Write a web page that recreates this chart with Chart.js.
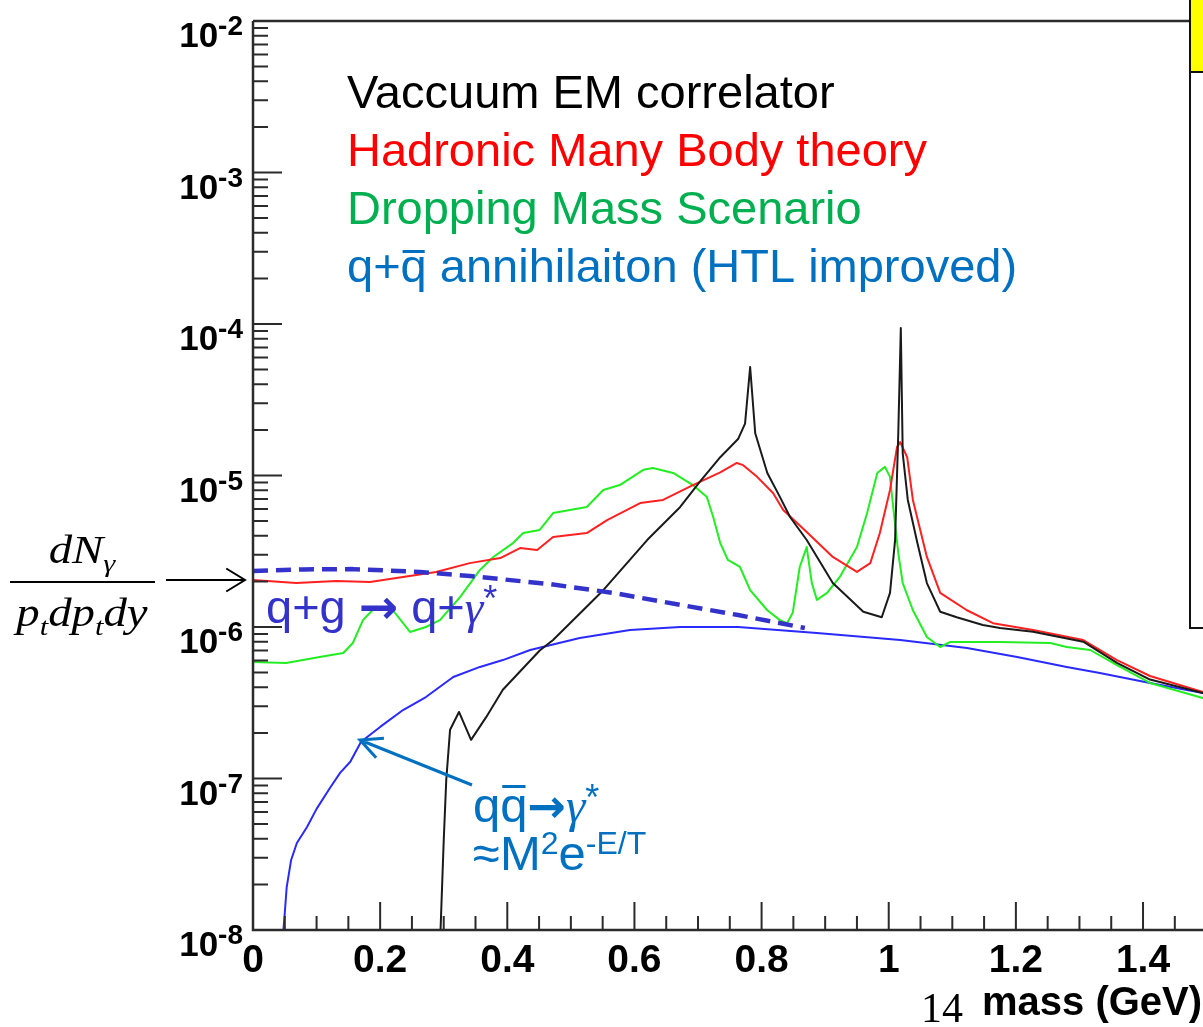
<!DOCTYPE html>
<html>
<head>
<meta charset="utf-8">
<script src="https://cdn.jsdelivr.net/npm/chart.js@4.4.0/dist/chart.umd.min.js"></script>
<style>
html, body { margin: 0; padding: 0; background: #fff; overflow: hidden; }
#caja { position: absolute; left: 0; top: 0; width: 1240px; height: 1027px; }
</style>
</head>
<body>
<div id="caja"><canvas id="grafica" width="1240" height="1027"></canvas></div>
<script>
// masa en GeV, rendimiento dN/(pt dpt dy)
const masaVacio = [0.295, 0.300, 0.304, 0.310, 0.324, 0.343, 0.367, 0.393, 0.451, 0.472, 0.551, 0.620, 0.672, 0.703, 0.735, 0.763, 0.774, 0.782, 0.790, 0.809, 0.829, 0.845, 0.871, 0.912, 0.960, 0.989, 1.002, 1.010, 1.015, 1.019, 1.022, 1.030, 1.045, 1.060, 1.081, 1.107, 1.148, 1.175, 1.227, 1.306, 1.359, 1.411, 1.494, 1.5];
const yieldVacio = [1.0e-8, 3.9e-8, 9.8e-8, 2.1e-7, 2.75e-7, 1.8e-7, 2.55e-7, 3.85e-7, 7.0e-7, 8.2e-7, 1.75e-6, 3.75e-6, 6.2e-6, 9.1e-6, 1.32e-5, 1.74e-5, 2.2e-5, 5.2e-5, 1.9e-5, 1.04e-5, 7.2e-6, 5.3e-6, 3.75e-6, 1.95e-6, 1.26e-6, 1.16e-6, 1.68e-6, 3.75e-6, 1.9e-5, 9.4e-5, 1.4e-5, 6.9e-6, 3.6e-6, 1.95e-6, 1.26e-6, 1.16e-6, 1.03e-6, 9.85e-7, 9.3e-7, 8.0e-7, 5.8e-7, 4.5e-7, 3.67e-7, 3.6e-7];

const masaHMBT = [0, 0.068, 0.131, 0.184, 0.236, 0.288, 0.341, 0.389, 0.420, 0.447, 0.472, 0.525, 0.557, 0.609, 0.645, 0.692, 0.735, 0.761, 0.771, 0.793, 0.818, 0.834, 0.871, 0.912, 0.950, 0.971, 0.986, 1.002, 1.013, 1.018, 1.029, 1.038, 1.060, 1.081, 1.123, 1.164, 1.227, 1.306, 1.359, 1.411, 1.494, 1.5];
const yieldHMBT = [2.04e-6, 1.95e-6, 2.01e-6, 1.98e-6, 2.14e-6, 2.31e-6, 2.64e-6, 2.85e-6, 3.32e-6, 3.22e-6, 3.93e-6, 4.17e-6, 5.08e-6, 6.58e-6, 6.9e-6, 8.65e-6, 1.05e-5, 1.21e-5, 1.17e-5, 9.8e-6, 7.66e-6, 5.92e-6, 4.24e-6, 2.9e-6, 2.31e-6, 2.64e-6, 4.17e-6, 8.02e-6, 1.54e-5, 1.66e-5, 1.32e-5, 6.9e-6, 2.9e-6, 1.68e-6, 1.29e-6, 1.06e-6, 9.55e-7, 8.2e-7, 6.05e-7, 4.75e-7, 3.72e-7, 3.65e-7];

const masaDropping = [0, 0.052, 0.105, 0.142, 0.157, 0.173, 0.193, 0.220, 0.247, 0.272, 0.294, 0.326, 0.357, 0.378, 0.409, 0.425, 0.451, 0.472, 0.525, 0.551, 0.577, 0.614, 0.629, 0.661, 0.692, 0.714, 0.724, 0.735, 0.747, 0.766, 0.782, 0.809, 0.829, 0.840, 0.849, 0.860, 0.871, 0.879, 0.887, 0.903, 0.923, 0.950, 0.966, 0.982, 0.994, 1.002, 1.007, 1.015, 1.022, 1.038, 1.060, 1.081, 1.096, 1.175, 1.254, 1.280, 1.317, 1.359, 1.411, 1.494, 1.5];
const yieldDropping = [5.87e-7, 5.78e-7, 6.34e-7, 6.73e-7, 7.84e-7, 1.11e-6, 1.36e-6, 1.29e-6, 9.27e-7, 1.0e-6, 1.11e-6, 1.58e-6, 2.38e-6, 2.9e-6, 3.58e-6, 4.17e-6, 4.37e-6, 5.65e-6, 6.2e-6, 8.02e-6, 8.65e-6, 1.09e-5, 1.12e-5, 1.04e-5, 8.65e-6, 7.2e-6, 5.3e-6, 3.58e-6, 2.77e-6, 2.49e-6, 1.75e-6, 1.29e-6, 1.11e-6, 1.06e-6, 1.24e-6, 2.49e-6, 3.37e-6, 1.95e-6, 1.51e-6, 1.68e-6, 2.14e-6, 3.37e-6, 5.65e-6, 1.04e-5, 1.14e-5, 9.8e-6, 6.2e-6, 3.08e-6, 1.95e-6, 1.29e-6, 8.59e-7, 7.38e-7, 7.96e-7, 7.96e-7, 7.84e-7, 7.38e-7, 7.05e-7, 5.61e-7, 4.27e-7, 3.4e-7, 3.35e-7];

const masaQQbar = [0.047, 0.050, 0.053, 0.060, 0.069, 0.085, 0.100, 0.121, 0.137, 0.153, 0.170, 0.200, 0.236, 0.272, 0.315, 0.357, 0.393, 0.436, 0.514, 0.593, 0.672, 0.763, 0.887, 1.018, 1.123, 1.202, 1.280, 1.332, 1.411, 1.494, 1.5];
const yieldQQbar = [9e-9, 1.3e-8, 1.92e-8, 2.9e-8, 3.75e-8, 4.79e-8, 6.3e-8, 8.65e-8, 1.09e-7, 1.29e-7, 1.75e-7, 2.19e-7, 2.83e-7, 3.45e-7, 4.68e-7, 5.45e-7, 6.05e-7, 7.05e-7, 8.46e-7, 9.55e-7, 1.0e-6, 1.0e-6, 9.12e-7, 8.2e-7, 7.27e-7, 6.34e-7, 5.45e-7, 4.97e-7, 4.27e-7, 3.67e-7, 3.62e-7];

const masaQG = [0, 0.08, 0.157, 0.263, 0.341, 0.467, 0.566, 0.672, 0.763, 0.868];
const yieldQG = [2.34e-6, 2.4e-6, 2.41e-6, 2.31e-6, 2.17e-6, 1.92e-6, 1.68e-6, 1.4e-6, 1.2e-6, 9.85e-7];

const xTicks = [0, 0.2, 0.4, 0.6, 0.8, 1, 1.2, 1.4];
const xTickLabels = ['0', '0.2', '0.4', '0.6', '0.8', '1', '1.2', '1.4'];
const yExponentes = [-8, -7, -6, -5, -4, -3, -2];

function puntos(masas, valores) {
    return masas.map((m, i) => ({ x: m, y: valores[i] }));
}

// escribe trozos de texto seguidos (superindices, barras, etc.)
function escribir(ctx, x, y, trozos) {
    for (const t of trozos) {
        ctx.font = t.f;
        ctx.fillStyle = t.c;
        const w = ctx.measureText(t.s).width;
        ctx.fillText(t.s, x, y - (t.up || 0));
        if (t.barra) {
            ctx.fillRect(x + 2, y - t.barra, w - 4, 3);
        }
        x += w + (t.gap || 0);
    }
    return x;
}

function anchoTrozos(ctx, trozos) {
    let w = 0;
    for (const t of trozos) { ctx.font = t.f; w += ctx.measureText(t.s).width + (t.gap || 0); }
    return w;
}

function flecha(ctx, x1, y1, x2, y2, color, grosor, largo, abre) {
    const ang = Math.atan2(y2 - y1, x2 - x1);
    ctx.strokeStyle = color;
    ctx.lineWidth = grosor;
    ctx.beginPath();
    ctx.moveTo(x1, y1);
    ctx.lineTo(x2, y2);
    ctx.moveTo(x2 - largo * Math.cos(ang - abre), y2 - largo * Math.sin(ang - abre));
    ctx.lineTo(x2, y2);
    ctx.lineTo(x2 - largo * Math.cos(ang + abre), y2 - largo * Math.sin(ang + abre));
    ctx.stroke();
}

const marcoPlugin = {
    id: 'marco',
    afterDraw(chart) {
        const ctx = chart.ctx;
        const area = chart.chartArea;
        const sx = chart.scales.x;
        const sy = chart.scales.y;
        ctx.save();

        // marco y ejes
        ctx.strokeStyle = '#2b2b2b';
        ctx.lineWidth = 2.5;
        ctx.beginPath();
        ctx.moveTo(area.left, area.top);
        ctx.lineTo(area.right, area.top);
        ctx.moveTo(area.left, area.top);
        ctx.lineTo(area.left, area.bottom);
        ctx.lineTo(area.right, area.bottom);
        ctx.stroke();

        // ticks del eje x (hacia dentro)
        ctx.lineWidth = 2;
        ctx.beginPath();
        for (let i = 0; i <= 30; i++) {
            const px = sx.getPixelForValue(i * 0.05);
            const largo = (i % 4 === 0) ? 28 : 14;
            ctx.moveTo(px, area.bottom);
            ctx.lineTo(px, area.bottom - largo);
        }
        // ticks del eje y
        for (let e = -8; e <= -3; e++) {
            for (let k = 1; k <= 9; k++) {
                const py = sy.getPixelForValue(k * Math.pow(10, e));
                const largo = (k === 1) ? 29 : 15;
                ctx.moveTo(area.left, py);
                ctx.lineTo(area.left + largo, py);
            }
        }
        ctx.stroke();

        // etiquetas x
        ctx.fillStyle = '#000';
        ctx.font = 'bold 39px "Liberation Sans"';
        ctx.textAlign = 'center';
        xTicks.forEach((v, i) => {
            ctx.fillText(xTickLabels[i], sx.getPixelForValue(v), 972);
        });

        // etiquetas y: 10^n
        ctx.textAlign = 'left';
        yExponentes.forEach(n => {
            const py = sy.getPixelForValue(Math.pow(10, n));
            const sup = String(n);
            ctx.font = 'bold 28px "Liberation Sans"';
            const wSup = ctx.measureText(sup).width;
            ctx.font = 'bold 35px "Liberation Sans"';
            const wBase = ctx.measureText('10').width;
            const x0 = 243 - wSup - wBase;
            ctx.fillText('10', x0, py + 26);
            ctx.font = 'bold 28px "Liberation Sans"';
            ctx.fillText(sup, x0 + wBase, py + 14);
        });

        // titulo eje x
        ctx.font = 'bold 40px "Liberation Sans"';
        ctx.fillText('mass (GeV)', 982, 1015);
        ctx.font = '42px "Liberation Serif"';
        ctx.fillText('14', 921, 1022);

        // caja de leyenda cortada (derecha)
        ctx.fillStyle = '#ffff00';
        ctx.fillRect(1190, -3, 80, 75);
        ctx.strokeStyle = '#111';
        ctx.lineWidth = 2;
        ctx.strokeRect(1190, -3, 80, 75);
        ctx.fillStyle = '#fff';
        ctx.fillRect(1191, 73, 78, 554);
        ctx.strokeRect(1190, 72, 80, 556);

        // textos de la leyenda
        const F = '47px "Liberation Sans"';
        escribir(ctx, 347, 108, [{ s: 'Vaccuum EM correlator', f: F, c: '#000' }]);
        escribir(ctx, 347, 166, [{ s: 'Hadronic Many Body theory', f: F, c: '#ff0000' }]);
        escribir(ctx, 347, 224, [{ s: 'Dropping Mass Scenario', f: F, c: '#00b050' }]);
        escribir(ctx, 347, 282, [
            { s: 'q+', f: F, c: '#0070c0' },
            { s: 'q', f: F, c: '#0070c0', barra: 32 },
            { s: ' annihilaiton (HTL improved)', f: F, c: '#0070c0' }
        ]);

        // q+g -> q+gamma*
        const azulQG = '#3333cc';
        escribir(ctx, 266, 623, [
            { s: 'q+g ', f: F, c: azulQG },
            { s: '\u2192', f: 'bold 47px "DejaVu Sans"', c: azulQG },
            { s: ' q+', f: F, c: azulQG },
            { s: '\u03b3', f: 'italic 47px "Liberation Serif"', c: azulQG },
            { s: '*', f: '36px "Liberation Sans"', c: azulQG, up: 12 }
        ]);

        // q qbar -> gamma*
        const azul = '#0070c0';
        const F48 = '49px "Liberation Sans"';
        escribir(ctx, 473, 822, [
            { s: 'q', f: F48, c: azul },
            { s: 'q', f: F48, c: azul, barra: 37 },
            { s: '\u2192', f: 'bold 46px "DejaVu Sans"', c: azul },
            { s: '\u03b3', f: 'italic 49px "Liberation Serif"', c: azul },
            { s: '*', f: '36px "Liberation Sans"', c: azul, up: 12 }
        ]);
        escribir(ctx, 473, 870, [
            { s: '\u2248M', f: F48, c: azul },
            { s: '2', f: '32px "Liberation Sans"', c: azul, up: 16 },
            { s: 'e', f: F48, c: azul },
            { s: '-E/T', f: '32px "Liberation Sans"', c: azul, up: 16 }
        ]);
        flecha(ctx, 472, 785, 360, 740, azul, 3, 24, 0.45);

        // etiqueta del eje y: dN_gamma / (pt dpt dy)
        const FI = 'italic 40px "Liberation Serif"';
        const FS = 'italic 26px "Liberation Serif"';
        const num = [
            { s: 'dN', f: FI, c: '#000' },
            { s: '\u03b3', f: FS, c: '#000', up: -9 }
        ];
        const den = [
            { s: 'p', f: FI, c: '#000' },
            { s: 't', f: FS, c: '#000', up: -9 },
            { s: 'dp', f: FI, c: '#000' },
            { s: 't', f: FS, c: '#000', up: -9 },
            { s: 'dy', f: FI, c: '#000' }
        ];
        const escala = 1.17;
        const centro = 82;
        ctx.save();
        ctx.translate(centro, 0);
        ctx.scale(escala, 1);
        escribir(ctx, -anchoTrozos(ctx, num) / 2, 563, num);
        escribir(ctx, -anchoTrozos(ctx, den) / 2, 626, den);
        ctx.restore();
        ctx.fillStyle = '#000';
        ctx.fillRect(10, 581, 145, 2);
        flecha(ctx, 166, 580, 245, 580, '#000', 2, 22, 0.55);

        ctx.restore();
    }
};

const ctx = document.getElementById('grafica').getContext('2d');

new Chart(ctx, {
    type: 'line',
    data: {
        datasets: [
            { label: 'q+g', data: puntos(masaQG, yieldQG), borderColor: '#3333cc', borderWidth: 4.5, borderDash: [15, 8] },
            { label: 'Vaccuum EM correlator', data: puntos(masaVacio, yieldVacio), borderColor: '#1a1a1a', borderWidth: 2 },
            { label: 'Hadronic Many Body theory', data: puntos(masaHMBT, yieldHMBT), borderColor: '#ff2020', borderWidth: 2 },
            { label: 'Dropping Mass Scenario', data: puntos(masaDropping, yieldDropping), borderColor: '#22ee22', borderWidth: 2 },
            { label: 'q+qbar annihilation', data: puntos(masaQQbar, yieldQQbar), borderColor: '#2a2aff', borderWidth: 2 }
        ]
    },
    options: {
        responsive: false,
        animation: false,
        devicePixelRatio: 1,
        layout: { padding: { left: 253, top: 21, right: 1240 - 1206.6, bottom: 1027 - 930 } },
        elements: {
            point: { radius: 0 },
            line: { tension: 0, borderJoinStyle: 'round', fill: false }
        },
        scales: {
            x: { type: 'linear', min: 0, max: 1.5, display: false },
            y: { type: 'logarithmic', min: 1e-8, max: 1e-2, display: false }
        },
        plugins: {
            legend: { display: false },
            tooltip: { enabled: false }
        }
    },
    plugins: [marcoPlugin]
});
</script>
</body>
</html>
